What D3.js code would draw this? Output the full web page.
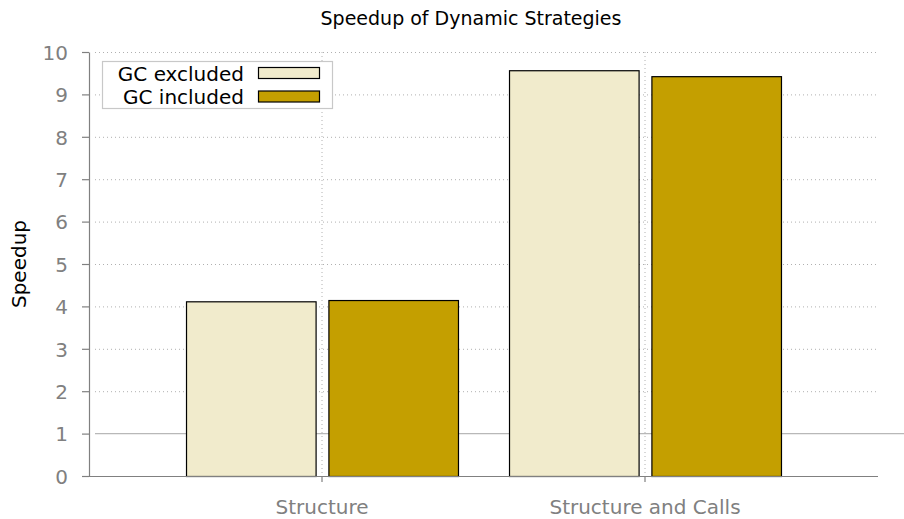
<!DOCTYPE html>
<html>
<head>
<meta charset="utf-8">
<script src="https://cdn.jsdelivr.net/npm/d3@7"></script>
<style>
body { margin: 0; background: #fff; }
svg { font-family: "DejaVu Sans", sans-serif; }
</style>
</head>
<body>
<script>
const categories = ["Structure", "Structure and Calls"]
const series = ["GC excluded", "GC included"]
const gcExcluded = [4.12, 9.57]
const gcIncluded = [4.15, 9.43]
const yTicks = [0, 1, 2, 3, 4, 5, 6, 7, 8, 9, 10]
const COLORS = ["#f1ebcc", "#c49f00"]

let width = 904, height = 519;
let mLeft = 89, mRight = 878, mTop = 52, mBottom = 476;

let svg = d3.select("body").append("svg").attr("width", width).attr("height", height);

let y = d3.scaleLinear().domain([0, 10]).range([mBottom, mTop]);
let x = d3.scaleBand().domain(categories).range([160.5, 806.5]).paddingInner(0.158).paddingOuter(0.079);
let x1 = d3.scaleBand().domain(series).range([0, x.bandwidth()]).paddingInner(0.09);

// grid
let grid = svg.append("g");
grid.selectAll("line.h").data(yTicks.filter(d => d > 0 && d != 1)).join("line")
    .attr("x1", mLeft + 6).attr("x2", mRight).attr("y1", d => y(d) + 0.5).attr("y2", d => y(d) + 0.5)
    .attr("stroke", "#b0b0b0").attr("stroke-width", 1).attr("stroke-dasharray", "1,3");
grid.selectAll("line.v").data(categories).join("line")
    .attr("x1", d => x(d) + x.bandwidth() / 2).attr("x2", d => x(d) + x.bandwidth() / 2)
    .attr("y1", mTop).attr("y2", mBottom)
    .attr("stroke", "#b0b0b0").attr("stroke-width", 1).attr("stroke-dasharray", "1,3");

// reference line at 1
svg.append("line").attr("x1", mLeft + 6).attr("x2", width).attr("y1", y(1)).attr("y2", y(1))
    .attr("stroke", "#b8b8b8").attr("stroke-width", 1.2);

// bars
let data = [];
categories.forEach((c, i) => {
    data.push({ cat: c, s: series[0], v: gcExcluded[i], col: COLORS[0] });
    data.push({ cat: c, s: series[1], v: gcIncluded[i], col: COLORS[1] });
});
svg.append("g").selectAll("rect").data(data).join("rect")
    .attr("x", d => x(d.cat) + x1(d.s) + 0.5)
    .attr("y", d => y(d.v) + 0.5)
    .attr("width", x1.bandwidth())
    .attr("height", d => mBottom - y(d.v))
    .attr("fill", d => d.col)
    .attr("stroke", "#000").attr("stroke-width", 1.2);

// axes
let yAxis = svg.append("g").attr("transform", `translate(${mLeft},0)`)
    .call(d3.axisLeft(y).tickValues(yTicks).tickSize(7).tickSizeOuter(0).tickPadding(14));
let xAxis = svg.append("g").attr("transform", `translate(0,${mBottom})`)
    .call(d3.axisBottom(x).tickSize(6).tickSizeOuter(0).tickPadding(18));
xAxis.select(".domain").attr("d", `M${mLeft},0.5H${mRight}`);
[yAxis, xAxis].forEach(a => {
    a.selectAll("path,line").attr("stroke", "#808080").attr("stroke-width", 1.2);
    a.selectAll("text").attr("fill", "#808080").attr("font-size", "20px").attr("font-family", "DejaVu Sans");
});
yAxis.selectAll("text").attr("dy", "0.36em");

// title and label
svg.append("text").attr("x", 471).attr("y", 25).attr("text-anchor", "middle")
    .attr("font-size", "19px").attr("fill", "#000").text("Speedup of Dynamic Strategies");
svg.append("text").attr("transform", `translate(26,264) rotate(-90)`)
    .attr("text-anchor", "middle").attr("font-size", "20px").attr("fill", "#000").text("Speedup");

// legend
let lg = svg.append("g");
lg.append("rect").attr("x", 102.5).attr("y", 61.5).attr("width", 230).attr("height", 47)
    .attr("fill", "#fff").attr("stroke", "#c8c8c8").attr("stroke-width", 1.2);
series.forEach((s, i) => {
    let yy = 73 + i * 23.5;
    lg.append("text").attr("x", 244).attr("y", yy + 7.5).attr("text-anchor", "end")
        .attr("font-size", "20px").attr("fill", "#000").text(s);
    lg.append("rect").attr("x", 258.5).attr("y", yy - 5.5).attr("width", 61).attr("height", 11)
        .attr("fill", COLORS[i]).attr("stroke", "#000").attr("stroke-width", 1.2);
});
</script>
</body>
</html>
